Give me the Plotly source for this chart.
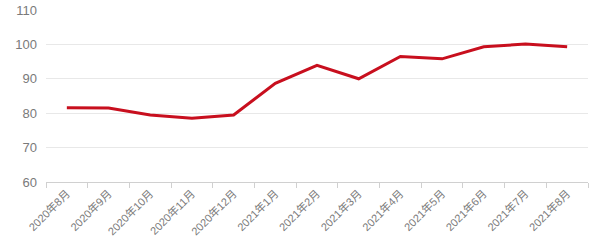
import plotly.graph_objects as go

categories = ["2020年8月", "2020年9月", "2020年10月", "2020年11月", "2020年12月",
              "2021年1月", "2021年2月", "2021年3月", "2021年4月", "2021年5月",
              "2021年6月", "2021年7月", "2021年8月"]
values = [81.6, 81.5, 79.5, 78.5, 79.5, 88.7, 93.9, 90.0, 96.5, 95.8, 99.3, 100.1, 99.3]
y_ticks = [60, 70, 80, 90, 100, 110]

fig = go.Figure()
fig.add_trace(go.Scatter(
    x=categories, y=values, mode="lines",
    line=dict(color="#c80f1e", width=3),
    hoverinfo="x+y",
))

font_family = "Liberation Sans, Noto Sans CJK SC, sans-serif"
fig.update_layout(
    width=600, height=241,
    margin=dict(l=46, r=12, t=10, b=59),
    paper_bgcolor="white", plot_bgcolor="white",
    showlegend=False,
    font=dict(family=font_family, color="#7a7a7a"),
    xaxis=dict(
        type="category",
        automargin=False,
        tickson="boundaries",
        ticks="outside", ticklen=5, tickcolor="#d0d0d0",
        showline=True, linecolor="#d0d0d0", linewidth=1,
        showgrid=False,
        tickangle=-45,
        tickfont=dict(size=11, color="#7a7a7a"),
        range=[-0.5, len(categories) - 0.5],
    ),
    yaxis=dict(
        automargin=False,
        range=[60, 110],
        tickvals=y_ticks,
        showgrid=True, gridcolor="#e8e8e8", gridwidth=1,
        zeroline=False, showline=False, ticks="",
        tickfont=dict(size=13, color="#7a7a7a"),
        ticklabelstandoff=8,
    ),
)

fig.write_html("out.html")
